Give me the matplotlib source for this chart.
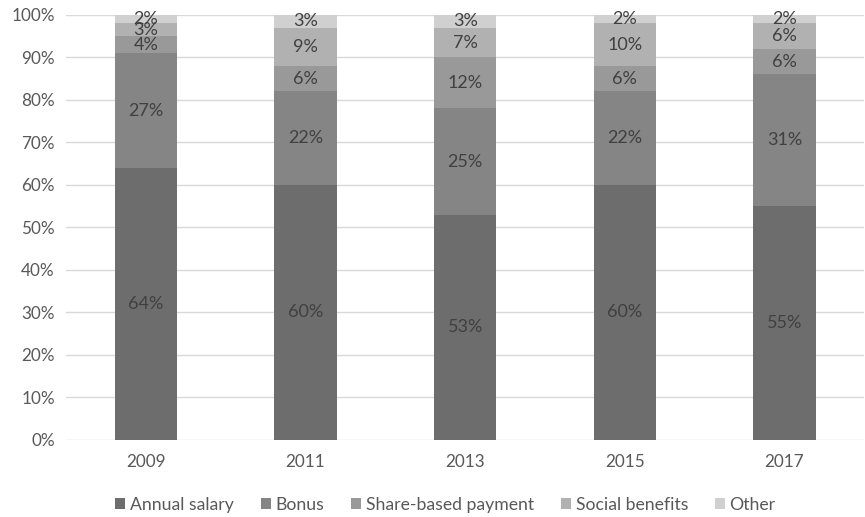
import matplotlib.pyplot as plt
import numpy as np

years = ['2009', '2011', '2013', '2015', '2017']
annual_salary = [64, 60, 53, 60, 55]
bonus = [27, 22, 25, 22, 31]
share_based = [4, 6, 12, 6, 6]
social_benefits = [3, 9, 7, 10, 6]
other = [2, 3, 3, 2, 2]

names = ['Annual salary', 'Bonus', 'Share-based payment', 'Social benefits', 'Other']
colors = ['#6d6d6d', '#858585', '#999999', '#b1b1b1', '#d0d0d0']

plt.rcParams['font.family'] = ['Lato', 'DejaVu Sans']

series = np.array([annual_salary, bonus, share_based, social_benefits, other], dtype=float)
shares = series / series.sum(axis=0)

fig = plt.figure(figsize=(8.65, 5.17), dpi=100)
ax = fig.add_axes([0.0763, 0.149, 0.923, 0.822])

x = np.arange(len(years))
bottom = np.zeros(len(years))
for i in range(len(names)):
    bars = ax.bar(x, shares[i], 0.39, bottom=bottom, color=colors[i], label=names[i], zorder=2)
    for j, b in enumerate(bars):
        ax.text(b.get_x() + b.get_width() / 2, bottom[j] + shares[i][j] / 2,
                '%d%%' % series[i][j], ha='center', va='center',
                fontsize=13, color='#404040', zorder=3)
    bottom += shares[i]

ax.set_xlim(-0.5, len(years) - 0.5)
ax.set_ylim(0, 1)
ax.set_yticks(np.arange(0, 1.01, 0.1))
ax.set_yticklabels(['%d%%' % v for v in range(0, 101, 10)])
ax.set_xticks(x)
ax.set_xticklabels(years)
ax.yaxis.grid(True, color='#d9d9d9', linewidth=1, zorder=0)
for s in ax.spines.values():
    s.set_visible(False)
ax.tick_params(length=0, labelsize=12.3, colors='#595959')
ax.tick_params(axis='x', pad=10)
ax.tick_params(axis='y', pad=8)

leg = fig.legend(loc='center', bbox_to_anchor=(0.515, 0.023), ncol=5, frameon=False,
                 fontsize=12.7, handlelength=0.57, handleheight=0.57, handletextpad=0.28,
                 columnspacing=1.5)
for t in leg.get_texts():
    t.set_color('#595959')

fig.savefig('out.png', dpi=100)
